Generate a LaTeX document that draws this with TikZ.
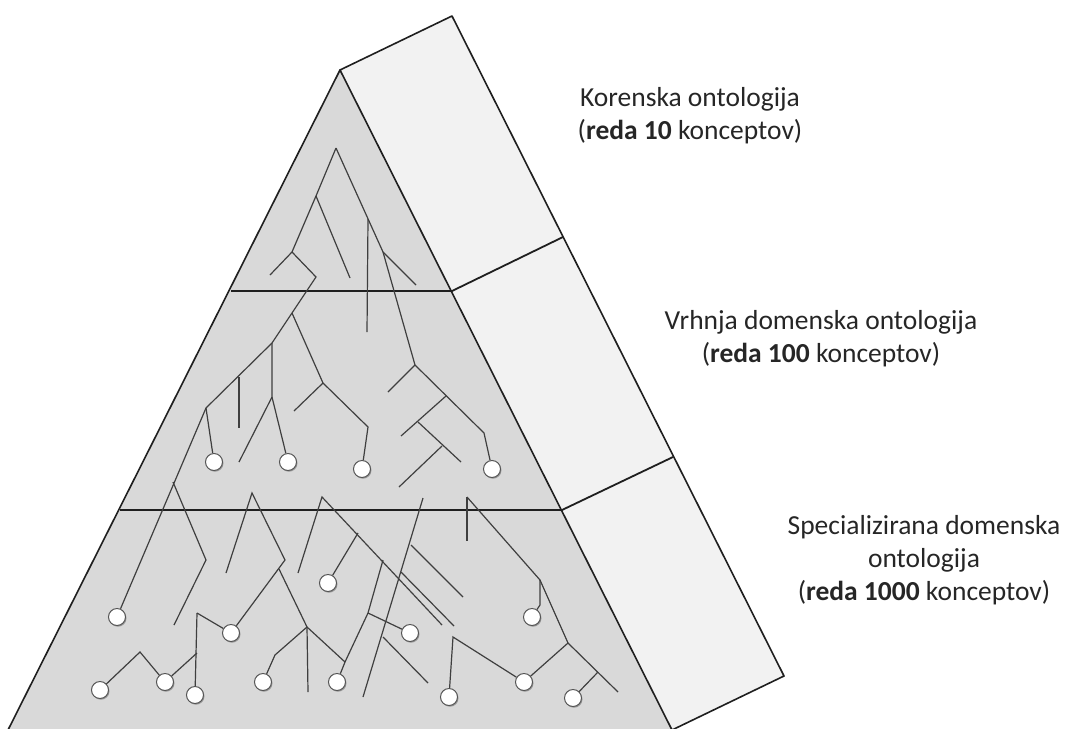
\documentclass[tikz,border=0pt]{standalone}
\usepackage{fontspec}
\setmainfont{Carlito}
\usetikzlibrary{shadows}
\definecolor{OFront}{HTML}{D9D9D9}
\definecolor{OSide}{HTML}{F2F2F2}
\definecolor{OEdge}{HTML}{1F1F1F}
\definecolor{OBranch}{HTML}{3F3F3F}
\definecolor{OLeaf}{HTML}{555555}
\definecolor{OText}{HTML}{262626}

\tikzset{
  branch/.style={OBranch,line width=1.2pt},
  leaf/.style={circle,draw=OLeaf,fill=white,line width=1pt,minimum size=17pt,inner sep=0pt,
    drop shadow={shadow xshift=1pt,shadow yshift=-1.2pt,opacity=.3,fill=black}},
  tierlabel/.style={align=center,text=OText,font=\fontsize{27.5}{33}\selectfont}
}

\begin{document}
\begin{tikzpicture}[x=1pt,y=-1pt]
\path[use as bounding box] (0,0) rectangle (1067,728);
\clip (0,0) rectangle (1067,728);
% faces
\fill[OSide] (340,70) -- (452,16) -- (784,676) -- (672,730) -- cycle;
\fill[OFront] (340,70) -- (672,730) -- (8,730) -- cycle;
\draw[OEdge,line width=1.6pt,line join=round] (672,730) -- (340,70) -- (452,16) -- (784,676) -- (672,730);
\draw[OEdge,line width=1.6pt] (340,70) -- (8,730);
\draw[OEdge,line width=1.8pt] (231,291) -- (452,291) -- (563,237);
\draw[OEdge,line width=1.8pt] (120,510) -- (562,510) -- (673,457);

% leaves
\node[leaf] (l1) at (214,462) {};
\node[leaf] (l2) at (288,462) {};
\node[leaf] (l3) at (362,469) {};
\node[leaf] (l4) at (492,469) {};
\node[leaf] (l5) at (117,617) {};
\node[leaf] (l6) at (231,633) {};
\node[leaf] (l7) at (328,583) {};
\node[leaf] (l8) at (410,633) {};
\node[leaf] (l9) at (532,617) {};
\node[leaf] (l10) at (100,690) {};
\node[leaf] (l11) at (165,682) {};
\node[leaf] (l12) at (195,695) {};
\node[leaf] (l13) at (263,682) {};
\node[leaf] (l14) at (337,682) {};
\node[leaf] (l15) at (449,697) {};
\node[leaf] (l16) at (524,682) {};
\node[leaf] (l17) at (573,698) {};

% root tier
\draw[branch] (336,148) -- (316,196) -- (292,252) -- (270,275);
\draw[branch] (316,196) -- (350,278);
\draw[branch] (336,148) -- (383,252) -- (415,365);
\draw[branch] (383,252) -- (416,285);
\draw[branch] (368,219) -- (367,332);
\draw[branch] (292,252) -- (316,277) -- (292,313) -- (272,343) -- (206,408) -- (l5);

% upper domain tier
\draw[branch] (292,313) -- (323,383) -- (368,427) -- (l3);
\draw[branch] (323,383) -- (294,411);
\draw[branch] (272,343) -- (272,397) -- (239,462);
\draw[branch] (272,397) -- (l2);
\draw[branch] (239,377) -- (239,428);
\draw[branch] (206,408) -- (l1);
\draw[branch] (415,365) -- (388,392);
\draw[branch] (415,365) -- (484,433) -- (l4);
\draw[branch] (446,396) -- (401,436);
\draw[branch] (418,422) -- (461,462);
\draw[branch] (442,446) -- (399,487);

% specialised tier
\draw[branch] (173,482) -- (206,560) -- (174,625);
\draw[branch] (226,573) -- (252,493) -- (285,560) -- (l6);
\draw[branch] (279,569) -- (307,627) -- (308,692);
\draw[branch] (307,627) -- (275,655) -- (l13);
\draw[branch] (307,627) -- (345,662) -- (l14);
\draw[branch] (345,662) -- (368,613) -- (383,560);
\draw[branch] (368,613) -- (l8);
\draw[branch] (298,573) -- (322,497) -- (442,625);
\draw[branch] (358,533) -- (l7);
\draw[branch] (423,498) -- (363,697);
\draw[branch] (411,545) -- (463,597);
\draw[branch] (401,572) -- (454,626);
\draw[branch] (383,637) -- (428,683);
\draw[branch] (467,497) -- (467,541);
\draw[branch] (467,497) -- (540,580) -- (540,605) -- (l9);
\draw[branch] (540,580) -- (568,643) -- (l16);
\draw[branch] (568,643) -- (618,692);
\draw[branch] (598,672) -- (l17);
\draw[branch] (l15) -- (453,637) -- (l16);
\draw[branch] (l10) -- (140,652) -- (l11);
\draw[branch] (l11) -- (197,653);
\draw[branch] (197,613) -- (l12);
\draw[branch] (197,613) -- (l6);

% labels (base = last line)
\node[tierlabel,anchor=base] (lroot) at (690,139) {Korenska ontologija\\(\textbf{reda 10} konceptov)};
\node[tierlabel,anchor=base] (lupper) at (821,362) {Vrhnja domenska ontologija\\(\textbf{reda 100} konceptov)};
\node[tierlabel,anchor=base] (lspec) at (924,600) {Specializirana domenska\\ontologija\\(\textbf{reda 1000} konceptov)};
\end{tikzpicture}
\end{document}
